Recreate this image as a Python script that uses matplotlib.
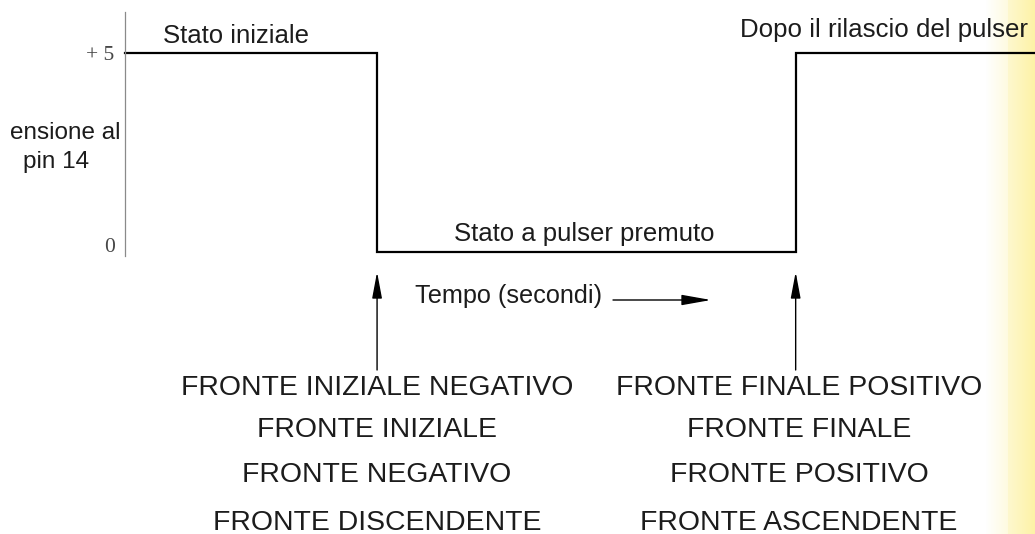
import numpy as np
import matplotlib
matplotlib.use("Agg")
import matplotlib.pyplot as plt

W, H = 1035, 534

# ---- data ----
time_edges = [0.0, 2.77, 7.37, 10.0]      # transitions (arbitrary seconds)
levels = [5, 0, 5, 5]                      # volts at pin 14
ytick_vals = [0, 5]
ytick_labels = ["0", "+ 5"]
state_labels = ["Stato iniziale", "Stato a pulser premuto", "Dopo il rilascio del pulser"]
edge_times = [2.77, 7.37]
falling_names = ["FRONTE INIZIALE NEGATIVO", "FRONTE INIZIALE",
                 "FRONTE NEGATIVO", "FRONTE DISCENDENTE"]
rising_names = ["FRONTE FINALE POSITIVO", "FRONTE FINALE",
                "FRONTE POSITIVO", "FRONTE ASCENDENTE"]

plt.rcParams['font.family'] = ['Liberation Sans', 'DejaVu Sans']
TXT = '#1c1c1c'


def fx(px):
    return px / W


def fy(py):
    return 1 - py / H


fig = plt.figure(figsize=(W / 100, H / 100), dpi=100)

# pale yellow strip at right edge (scan artefact)
bg = fig.add_axes([0, 0, 1, 1], zorder=-5)
bg.set_axis_off()
cols = np.ones((1, W, 4))
xs = np.arange(W, dtype=float)
ramp = np.where(xs < 1008, np.clip((xs - 985) / 23.0, 0, 1) * 0.35,
                0.55 + 0.45 * np.clip((xs - 1008) / 27.0, 0, 1))
cols[0, :, 0] = 1 - ramp * (1 - 253 / 255)
cols[0, :, 1] = 1 - ramp * (1 - 242 / 255)
cols[0, :, 2] = 1 - ramp * (1 - 165 / 255)
bg.imshow(cols, aspect='auto', extent=[0, 1, 0, 1])
bg.set_xlim(0, 1)
bg.set_ylim(0, 1)

# main axes: x 125..1035 px, 0 V at 252 px, 5 V at 53 px
ax = fig.add_axes([fx(125), fy(252), (1035 - 125) / W, (252 - 53) / H])
ax.patch.set_alpha(0)
ax.set_xlim(0, 10)
ax.set_ylim(0, 5)
vpp = 5 / (252 - 53)  # volts per pixel

ax.step(time_edges, levels, where='post', color='black', lw=1.6,
        clip_on=False, solid_joinstyle='miter')

for s in ['top', 'right', 'bottom']:
    ax.spines[s].set_visible(False)
ax.spines['left'].set_color('#8a8a8a')
ax.spines['left'].set_linewidth(0.9)
ax.spines['left'].set_bounds(-4 * vpp, 5 + 41 * vpp)
ax.set_xticks([])
ax.set_yticks([])

# tick labels next to the axis
tick_dy = {0: 3.6, 5: -1.5}
for v, lab in zip(ytick_vals, ytick_labels):
    ax.annotate(lab, xy=(0, v), xycoords=('axes fraction', 'data'),
                xytext=(-7.5, tick_dy[v]), textcoords='offset points',
                ha='right', va='center', family='Liberation Serif',
                fontsize=15.5, color='#474747', annotation_clip=False)

# y label (cut at the left edge in the original)
fig.text(fx(120), fy(139), "ensione al", ha='right', va='baseline',
         fontsize=17.5, color=TXT)
fig.text(fx(56), fy(168), "pin 14", ha='center', va='baseline',
         fontsize=17.5, color=TXT)

# state labels
fig.text(fx(163), fy(43), state_labels[0], ha='left', va='baseline',
         fontsize=18.5, color=TXT)
fig.text(fx(584), fy(241), state_labels[1], ha='center', va='baseline',
         fontsize=18.5, color=TXT)
fig.text(fx(740), fy(37), state_labels[2], ha='left', va='baseline',
         fontsize=18.6, color=TXT)

# time label and arrow
fig.text(fx(415), fy(303), "Tempo (secondi)", ha='left', va='baseline',
         fontsize=18.2, color=TXT)
fig.add_artist(matplotlib.patches.FancyArrowPatch(
    (fx(613), fy(300)), (fx(711), fy(300)), transform=fig.transFigure,
    arrowstyle='-|>,head_length=1.8,head_width=0.32', mutation_scale=10,
    color='black', lw=1.0, shrinkA=0, shrinkB=0))

# arrows pointing at the edges
for t in edge_times:
    ax.annotate('', xy=(t, -20 * vpp), xytext=(t, -118 * vpp),
                arrowprops=dict(arrowstyle='-|>,head_length=1.6,head_width=0.3',
                                mutation_scale=10, color='black', lw=1.0,
                                shrinkA=0, shrinkB=0),
                annotation_clip=False)

# edge names
baselines = [395, 437, 482, 530]
for name, yb in zip(falling_names, baselines):
    fig.text(fx(377), fy(yb), name, ha='center', va='baseline',
             fontsize=20.4, color=TXT)
for name, yb in zip(rising_names, baselines):
    fig.text(fx(799), fy(yb), name, ha='center', va='baseline',
             fontsize=20.4, color=TXT)

fig.savefig("out.png", dpi=100)
